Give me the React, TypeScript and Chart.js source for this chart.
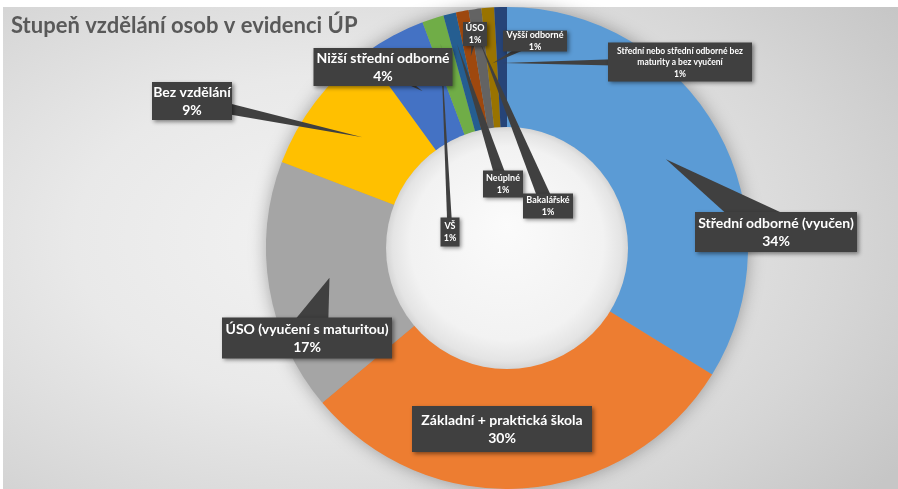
import React, { useEffect, useRef } from 'react';
import { Chart, registerables } from 'chart.js';

Chart.register(...registerables);

const chartTitle = 'Stupeň vzdělání osob v evidenci ÚP';

const categories = [
  'Střední odborné (vyučen)',
  'Základní + praktická škola',
  'ÚSO (vyučení s maturitou)',
  'Bez vzdělání',
  'Nižší střední odborné',
  'VŠ',
  'Neúplné',
  'ÚSO',
  'Bakalářské',
  'Vyšší odborné',
  'Střední nebo střední odborné bez maturity a bez vyučení',
];

const shares = [33.8, 30.1, 16.9, 9.2, 4.3, 1.45, 0.85, 0.85, 0.85, 0.85, 0.85];

const sliceColors = [
  '#5B9BD5', '#ED7D31', '#A5A5A5', '#FFC000', '#4472C4',
  '#70AD47', '#255E91', '#9E480E', '#636363', '#997300', '#264478',
];

// how each category name wraps inside its callout
const labelWraps: string[][] = [
  ['Střední odborné (vyučen)'],
  ['Základní + praktická škola'],
  ['ÚSO (vyučení s maturitou)'],
  ['Bez vzdělání'],
  ['Nižší střední odborné'],
  ['VŠ'],
  ['Neúplné'],
  ['ÚSO'],
  ['Bakalářské'],
  ['Vyšší odborné'],
  ['Střední nebo střední odborné bez', 'maturity a bez vyučení'],
];

// callout layout: box centre offset from chart centre, box size, font size,
// pointer tip radius (along slice mid-angle) and pointer base width
const calloutLayout = [
  { dx: 269, dy: -16, w: 162, h: 40, font: 14, tipR: 182, base: 40 },
  { dx: -5, dy: 181, w: 180, h: 46, font: 14, tipR: 0, base: 0 },
  { dx: -200, dy: 90, w: 170, h: 41, font: 14, tipR: 180, base: 44 },
  { dx: -315, dy: -147, w: 80, h: 38, font: 14, tipR: 182, base: 14 },
  { dx: -124, dy: -181, w: 139, h: 38, font: 14, tipR: 178, base: 12 },
  { dx: -57, dy: -16, w: 19, h: 29, font: 9, tipR: 215, base: 5 },
  { dx: -4, dy: -64, w: 40, h: 27, font: 9, tipR: 210, base: 12 },
  { dx: -32, dy: -214, w: 24, h: 24, font: 9, tipR: 195, base: 6 },
  { dx: 41, dy: -42, w: 50, h: 25, font: 9, tipR: 210, base: 14 },
  { dx: 28, dy: -207, w: 64, h: 21, font: 9, tipR: 185, base: 8 },
  { dx: 173, dy: -186, w: 144, h: 39, font: 8.5, tipR: 185, base: 10 },
];

const FONT = 'Lato, "Open Sans", sans-serif';

const ringDecor = {
  id: 'ringDecor',
  beforeDatasetsDraw(chart: any) {
    const meta = chart.getDatasetMeta(0);
    const a = meta.data[0];
    if (!a) return;
    const ctx = chart.ctx;
    ctx.save();
    ctx.shadowColor = 'rgba(0,0,0,0.35)';
    ctx.shadowBlur = 18;
    ctx.fillStyle = '#999';
    ctx.beginPath();
    ctx.arc(a.x, a.y, a.outerRadius - 1, 0, Math.PI * 2);
    ctx.fill();
    ctx.restore();
  },
  afterDatasetsDraw(chart: any) {
    const meta = chart.getDatasetMeta(0);
    const a0 = meta.data[0];
    if (!a0) return;
    const ctx = chart.ctx;
    const cx = a0.x, cy = a0.y, ir = a0.innerRadius;
    // hole
    ctx.save();
    const g = ctx.createRadialGradient(cx, cy - ir * 0.2, 0, cx, cy, ir);
    g.addColorStop(0, '#fbfbfb');
    g.addColorStop(0.8, '#f2f2f2');
    g.addColorStop(0.95, '#e4e4e4');
    g.addColorStop(1, '#d6d6d6');
    ctx.fillStyle = g;
    ctx.beginPath();
    ctx.arc(cx, cy, ir + 0.5, 0, Math.PI * 2);
    ctx.fill();
    ctx.restore();

    const total = shares.reduce((s, v) => s + v, 0);
    // pointers
    meta.data.forEach((arc: any, i: number) => {
      const L = calloutLayout[i];
      if (!L.tipR) return;
      const mid = (arc.startAngle + arc.endAngle) / 2;
      const tx = cx + Math.cos(mid) * L.tipR;
      const ty = cy + Math.sin(mid) * L.tipR;
      const bx = cx + L.dx, by = cy + L.dy;
      const vx = tx - bx, vy = ty - by;
      const len = Math.hypot(vx, vy) || 1;
      const px = -vy / len, py = vx / len;
      ctx.save();
      ctx.fillStyle = '#404040';
      ctx.beginPath();
      ctx.moveTo(bx + px * L.base / 2, by + py * L.base / 2);
      ctx.lineTo(tx, ty);
      ctx.lineTo(bx - px * L.base / 2, by - py * L.base / 2);
      ctx.closePath();
      ctx.fill();
      ctx.restore();
    });
    // boxes + text
    meta.data.forEach((arc: any, i: number) => {
      const L = calloutLayout[i];
      const bx = cx + L.dx, by = cy + L.dy;
      ctx.save();
      ctx.shadowColor = 'rgba(0,0,0,0.45)';
      ctx.shadowBlur = 4;
      ctx.shadowOffsetX = 1.5;
      ctx.shadowOffsetY = 1.5;
      ctx.fillStyle = '#404040';
      ctx.fillRect(bx - L.w / 2, by - L.h / 2, L.w, L.h);
      ctx.restore();
      const pct = Math.round((shares[i] / total) * 100) + '%';
      const lines = [...labelWraps[i], pct];
      const lh = L.font * 1.35;
      ctx.save();
      ctx.fillStyle = '#ffffff';
      ctx.font = `bold ${L.font}px ${FONT}`;
      ctx.textAlign = 'center';
      ctx.textBaseline = 'middle';
      lines.forEach((t, k) => {
        ctx.fillText(t, bx, by + (k - (lines.length - 1) / 2) * lh + 0.5);
      });
      ctx.restore();
    });
    // title
    ctx.save();
    ctx.fillStyle = '#595959';
    ctx.font = `bold 22px ${FONT}`;
    ctx.textAlign = 'left';
    ctx.textBaseline = 'alphabetic';
    ctx.fillText(chartTitle, 11, 33);
    ctx.restore();
  },
};

export default function App() {
  const ref = useRef<HTMLCanvasElement | null>(null);
  useEffect(() => {
    document.body.style.margin = '0';
    const canvas = ref.current;
    if (!canvas) return;
    const chart = new Chart(canvas, {
      type: 'doughnut',
      data: {
        labels: categories,
        datasets: [
          {
            data: shares,
            backgroundColor: sliceColors,
            borderWidth: 0,
          },
        ],
      },
      options: {
        responsive: false,
        animation: false,
        cutout: '50%',
        rotation: 0,
        layout: { padding: { left: 266, right: 150, top: 7, bottom: 0 } },
        plugins: {
          legend: { display: false },
          tooltip: { enabled: false },
          title: { display: false },
        },
      },
      plugins: [ringDecor],
    });
    return () => chart.destroy();
  }, []);
  return (
    <div style={{ position: 'relative', width: 898, height: 489, background: '#ffffff', overflow: 'hidden' }}>
      <div
        style={{
          position: 'absolute',
          left: 3,
          top: 7,
          right: 0,
          bottom: 0,
          background:
            'radial-gradient(ellipse 75% 85% at 38% 48%, #f3f3f3 0%, #e9e9e9 40%, #d6d6d6 75%, #c6c6c6 100%)',
        }}
      />
      <canvas ref={ref} width={898} height={489} style={{ position: 'absolute', left: 0, top: 0 }} />
    </div>
  );
}
